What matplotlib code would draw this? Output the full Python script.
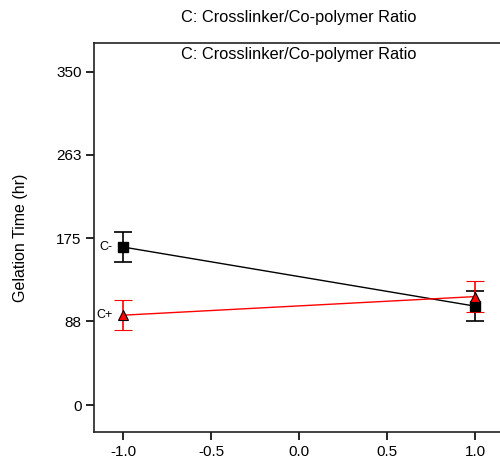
import matplotlib
matplotlib.use("Agg")
import matplotlib.pyplot as plt

plt.rcParams['font.family'] = ['Liberation Sans', 'DejaVu Sans']

x_levels = [-1.0, 1.0]
c_minus = [166, 104]
c_minus_err = [16, 16]
c_plus = [94.5, 114]
c_plus_err = [15.5, 16]
yticks = [0, 88, 175, 263, 350]
xticks = [-1.0, -0.5, 0.0, 0.5, 1.0]
title = 'C: Crosslinker/Co-polymer Ratio'

fig = plt.figure(figsize=(5, 4.71), dpi=100)
ax = fig.add_axes([0.188, 0.0828, 0.82, 0.826])

ax.errorbar(x_levels, c_minus, yerr=c_minus_err, color='black', lw=1,
            marker='s', ms=6.5, mfc='black', mec='black', capsize=6.5, capthick=1.2, elinewidth=1.2)
ax.errorbar(x_levels, c_plus, yerr=c_plus_err, color='red', lw=1,
            marker='^', ms=7.5, mfc='red', mec='black', mew=0.8, capsize=6.5, capthick=1.2, elinewidth=1.2)

ax.text(x_levels[0] - 0.06, c_minus[0], 'C-', ha='right', va='center', fontsize=9)
ax.text(x_levels[0] - 0.06, c_plus[0], 'C+', ha='right', va='center', fontsize=9)

ax.set_xlim(-1.165, 1.165)
ax.set_ylim(-28, 380)
ax.set_xticks(xticks)
ax.set_xticklabels(['%.1f' % v for v in xticks])
ax.set_yticks(yticks)
ax.tick_params(direction='out', length=6, width=1.2, labelsize=11, pad=3)
for s in ax.spines.values():
    s.set_linewidth(1.2)
    s.set_color('#222222')

ax.set_ylabel('Gelation Time (hr)', fontsize=11.5, labelpad=20)
ax.text(0.5, 0.99, title, transform=ax.transAxes, ha='center', va='top', fontsize=11.8)
fig.text(0.597, 0.962, title, ha='center', va='center', fontsize=11.8)

fig.savefig('out.png', dpi=100)
